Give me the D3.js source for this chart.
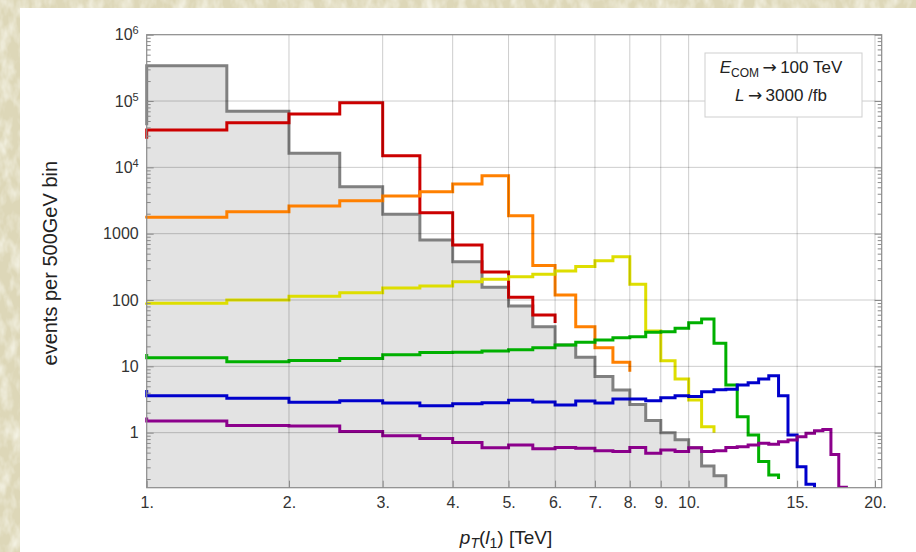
<!DOCTYPE html>
<html>
<head>
<meta charset="utf-8">
<script src="https://cdn.jsdelivr.net/npm/d3@7"></script>
<style>
  html, body { margin: 0; padding: 0; background: #fff; }
  svg { display: block; }
  text { font-family: "Liberation Sans", Arial, sans-serif; }
</style>
</head>
<body>
<svg id="chart" width="916" height="552"></svg>
<script>
// Bin edges in TeV (500 GeV bins). Each series below lists:
//   [value of the 0.5-1 TeV bin (only its edge at 1 TeV is visible),
//    one value per 500 GeV bin starting at 1 TeV,
//    value the outline drops to after its last bin]
const binEdges = [1, 1.5, 2, 2.5, 3, 3.5, 4, 4.5, 5, 5.5, 6, 6.5, 7, 7.5, 8, 8.5, 9, 9.5,
                  10, 10.5, 11, 11.5, 12, 12.5, 13, 13.5, 14, 14.5, 15, 15.5, 16, 16.5, 17, 17.5, 18, 18.5];

const background = [4.3e4, 3.4e5, 7.0e4, 1.63e4, 5100, 1960, 800, 378, 156, 81, 39.6, 21, 13.7,
                    7.0, 4.4, 2.65, 1.52, 1.0, 0.78, 0.59, 0.315, 0.225, 0.01];
const signalRed = [2.7e4, 3.66e4, 4.7e4, 6.4e4, 9.45e4, 1.49e4, 2075, 676, 265, 110, 59.5, 45];
const signalOrange = [1700, 1767, 2147, 2618, 3148, 3707, 4305, 5615, 7500, 1870, 330, 119, 39.6,
                      19.1, 11.5, 8.3];
const signalYellow = [92, 89, 100, 114, 129, 152, 163, 189, 205, 225, 244, 274, 319, 392, 450,
                      173, 34, 12.1, 6.45, 3.11, 1.23, 1.0];
const signalGreen = [15.4, 13.5, 11.7, 12.2, 13.1, 15, 16.1, 16.3, 17.1, 17.8, 19.1, 21, 23, 25, 27,
                     28, 32.6, 33.3, 37.4, 45.5, 51.7, 22.3, 5.24, 1.74, 0.92, 0.366, 0.23, 0.2];
const signalBlue = [4.4, 3.61, 3.30, 2.87, 3.04, 2.80, 2.55, 2.74, 2.83, 3.08, 2.90, 2.62, 3.0, 2.8,
                    3.22, 3.22, 3.04, 3.37, 3.61, 3.5, 4.15, 4.45, 4.5, 5.24, 5.67, 6.45, 7.23, 3.61,
                    0.92, 0.307, 0.167, 0.01];
const signalPurple = [1.7, 1.50, 1.28, 1.26, 1.04, 0.90, 0.82, 0.71, 0.59, 0.65, 0.57, 0.60, 0.58,
                      0.535, 0.52, 0.60, 0.49, 0.55, 0.52, 0.59, 0.52, 0.535, 0.60, 0.615, 0.65, 0.69,
                      0.67, 0.73, 0.776, 0.87, 0.98, 1.07, 1.12, 0.47, 0.15, 0.01];

const xTickValues = [1, 2, 3, 4, 5, 6, 7, 8, 9, 10, 15, 20];
const xGridValues = [2, 3, 4, 5, 6, 7, 8, 9, 10, 15, 20];
const yMajorValues = [1, 10, 100, 1000, 1e4, 1e5, 1e6];
const yTickLabels = ["1", "10", "100", "1000", "10^4", "10^5", "10^6"];
const legendLines = [["E", "COM", "100 TeV"], ["L", "", "3000 /fb"]];

// --- layout -----------------------------------------------------------
const plot = { left: 146.7, right: 881.7, top: 34.7, bottom: 487.7 };
const svg = d3.select("#chart");

// Horizontal axis is logarithmic in (pT + 0.5 TeV)
const xLog = d3.scaleLog().domain([1.5, 21]).range([plot.left, plot.right]);
const x = v => xLog(v + 0.5);
x.copy = () => x;
x.range = () => xLog.range();
x.domain = () => [1, 20.5];

const y = d3.scaleLog().domain([0.148, 1e6]).range([plot.bottom, plot.top]);

const yMinorValues = [];
[0.1, 1, 10, 100, 1000, 1e4, 1e5].forEach(d => {
  for (let m = 2; m <= 9; m++) {
    const v = d * m;
    if (v >= 0.148 && v <= 1e6) yMinorValues.push(v);
  }
});

// --- backdrop ---------------------------------------------------------
const defs = svg.append("defs");
const linen = defs.append("filter").attr("id", "linen").attr("x", 0).attr("y", 0)
  .attr("width", "100%").attr("height", "100%");
linen.append("feTurbulence").attr("type", "fractalNoise")
  .attr("baseFrequency", "0.09 0.05").attr("numOctaves", 3).attr("seed", 7).attr("result", "n");
linen.append("feColorMatrix").attr("in", "n").attr("type", "matrix")
  .attr("values", "0 0 0 0 1  0 0 0 0 1  0 0 0 0 0.95  1.4 0 0 0 -0.55");

svg.append("rect").attr("width", 916).attr("height", 552).attr("fill", "#ddd7b8");
svg.append("rect").attr("width", 916).attr("height", 552).attr("filter", "url(#linen)");
svg.append("rect").attr("x", 20).attr("y", 8).attr("width", 896).attr("height", 544).attr("fill", "#fff");

defs.append("clipPath").attr("id", "plotClip").append("rect")
  .attr("x", plot.left - 3).attr("y", plot.top)
  .attr("width", plot.right - plot.left + 6).attr("height", plot.bottom - plot.top);

// --- background fill --------------------------------------------------
function outline(vals) {
  // vertical edge at the first bin edge, then a step per bin, then the closing drop
  const p = d3.path();
  p.moveTo(x(binEdges[0]), y(vals[0]));
  const n = vals.length - 2;
  for (let i = 0; i < n; i++) {
    p.lineTo(x(binEdges[i]), y(vals[i + 1]));
    p.lineTo(x(binEdges[i + 1]), y(vals[i + 1]));
  }
  p.lineTo(x(binEdges[n]), y(vals[n + 1]));
  return p.toString();
}
function filled(vals) {
  const p = d3.path();
  const n = vals.length - 2;
  p.moveTo(x(binEdges[0]), plot.bottom);
  for (let i = 0; i < n; i++) {
    p.lineTo(x(binEdges[i]), y(vals[i + 1]));
    p.lineTo(x(binEdges[i + 1]), y(vals[i + 1]));
  }
  p.lineTo(x(binEdges[n]), plot.bottom);
  p.closePath();
  return p.toString();
}

const plotG = svg.append("g").attr("clip-path", "url(#plotClip)");
plotG.append("path").attr("d", filled(background)).attr("fill", "#e3e3e3");

// --- grid -------------------------------------------------------------
const grid = svg.append("g").attr("stroke", "#000").attr("stroke-opacity", 0.2).attr("stroke-width", 1);
grid.selectAll("line.h").data(yMajorValues.filter(v => v < 1e6)).join("line")
  .attr("x1", plot.left).attr("x2", plot.right)
  .attr("y1", d => y(d)).attr("y2", d => y(d));
grid.selectAll("line.v").data(xGridValues).join("line")
  .attr("y1", plot.top).attr("y2", plot.bottom)
  .attr("x1", d => x(d)).attr("x2", d => x(d));

// --- axes -------------------------------------------------------------
function styleAxis(g) {
  g.select(".domain").remove();
  g.selectAll(".tick line").attr("stroke", "#8a8a8a");
  g.selectAll(".tick text").attr("fill", "#333").attr("font-size", 16);
}

svg.append("g").attr("transform", `translate(0,${plot.bottom})`)
  .call(d3.axisBottom(x).tickValues(xTickValues).tickFormat(d => d + ".")
    .tickSizeInner(-7).tickSizeOuter(0).tickPadding(9))
  .call(styleAxis);

const yLeft = svg.append("g").attr("transform", `translate(${plot.left},0)`)
  .call(d3.axisLeft(y).tickValues(yMajorValues).tickFormat((d, i) => yTickLabels[i])
    .tickSizeInner(-7).tickSizeOuter(0).tickPadding(8))
  .call(styleAxis);
yLeft.selectAll(".tick text").each(function () {
  const t = d3.select(this);
  const s = t.text();
  if (s.includes("^")) {
    const [base, exp] = s.split("^");
    t.text(null);
    t.append("tspan").text(base);
    t.append("tspan").attr("font-size", 11).attr("dy", "-0.55em").text(exp);
  }
});
svg.append("g").attr("transform", `translate(${plot.left},0)`)
  .call(d3.axisLeft(y).tickValues(yMinorValues).tickFormat("").tickSizeInner(-4).tickSizeOuter(0))
  .call(styleAxis);

svg.append("g").attr("transform", `translate(${plot.right},0)`)
  .call(d3.axisRight(y).tickValues(yMajorValues).tickFormat("").tickSizeInner(-7).tickSizeOuter(0))
  .call(styleAxis);
svg.append("g").attr("transform", `translate(${plot.right},0)`)
  .call(d3.axisRight(y).tickValues(yMinorValues).tickFormat("").tickSizeInner(-4).tickSizeOuter(0))
  .call(styleAxis);

svg.append("rect")
  .attr("x", plot.left).attr("y", plot.top)
  .attr("width", plot.right - plot.left).attr("height", plot.bottom - plot.top)
  .attr("fill", "none").attr("stroke", "#8a8a8a").attr("stroke-width", 1.2);

// --- histogram outlines ----------------------------------------------
const seriesList = [
  { vals: background, color: "#808080" },
  { vals: signalRed, color: "#cc0000" },
  { vals: signalOrange, color: "#ff8000" },
  { vals: signalYellow, color: "#dede00" },
  { vals: signalGreen, color: "#00b000" },
  { vals: signalBlue, color: "#0000cc" },
  { vals: signalPurple, color: "#8c008c" }
];
plotG.selectAll("path.hist").data(seriesList).join("path")
  .attr("class", "hist")
  .attr("d", d => outline(d.vals))
  .attr("fill", "none")
  .attr("stroke", d => d.color)
  .attr("stroke-width", 3)
  .attr("stroke-linejoin", "miter");

// --- legend box -------------------------------------------------------
const lg = svg.append("g");
lg.append("rect").attr("x", 705).attr("y", 53).attr("width", 157).attr("height", 64)
  .attr("fill", "#fff").attr("stroke", "#cfcfcf").attr("stroke-width", 1);
legendLines.forEach((ln, i) => {
  const t = lg.append("text").attr("x", 781).attr("y", 73 + i * 28)
    .attr("text-anchor", "middle").attr("font-size", 17).attr("fill", "#222");
  t.append("tspan").attr("font-style", "italic").text(ln[0]);
  if (ln[1]) {
    t.append("tspan").attr("font-size", 12).attr("dy", 4).text(ln[1]);
    t.append("tspan").attr("dy", -4).attr("font-family", "DejaVu Sans").text("\u2009\u2192");
  } else {
    t.append("tspan").attr("font-family", "DejaVu Sans").text("\u2009\u2192");
  }
  t.append("tspan").text("\u2009" + ln[2]);
});

// --- axis titles ------------------------------------------------------
svg.append("text")
  .attr("transform", `translate(50,${(plot.top + plot.bottom) / 2 + 2}) rotate(-90)`)
  .attr("text-anchor", "middle").attr("dy", "0.35em").attr("font-size", 20).attr("fill", "#222")
  .text("events per 500GeV bin");

const xt = svg.append("text").attr("x", 506).attr("y", 544)
  .attr("text-anchor", "middle").attr("font-size", 19).attr("fill", "#222");
xt.append("tspan").attr("font-style", "italic").text("p");
xt.append("tspan").attr("font-style", "italic").attr("font-size", 14).attr("dy", 4).text("T");
xt.append("tspan").attr("dy", -4).text("(");
xt.append("tspan").attr("font-style", "italic").text("l");
xt.append("tspan").attr("font-size", 14).attr("dy", 4).text("1");
xt.append("tspan").attr("dy", -4).text(") [TeV]");
</script>
</body>
</html>
